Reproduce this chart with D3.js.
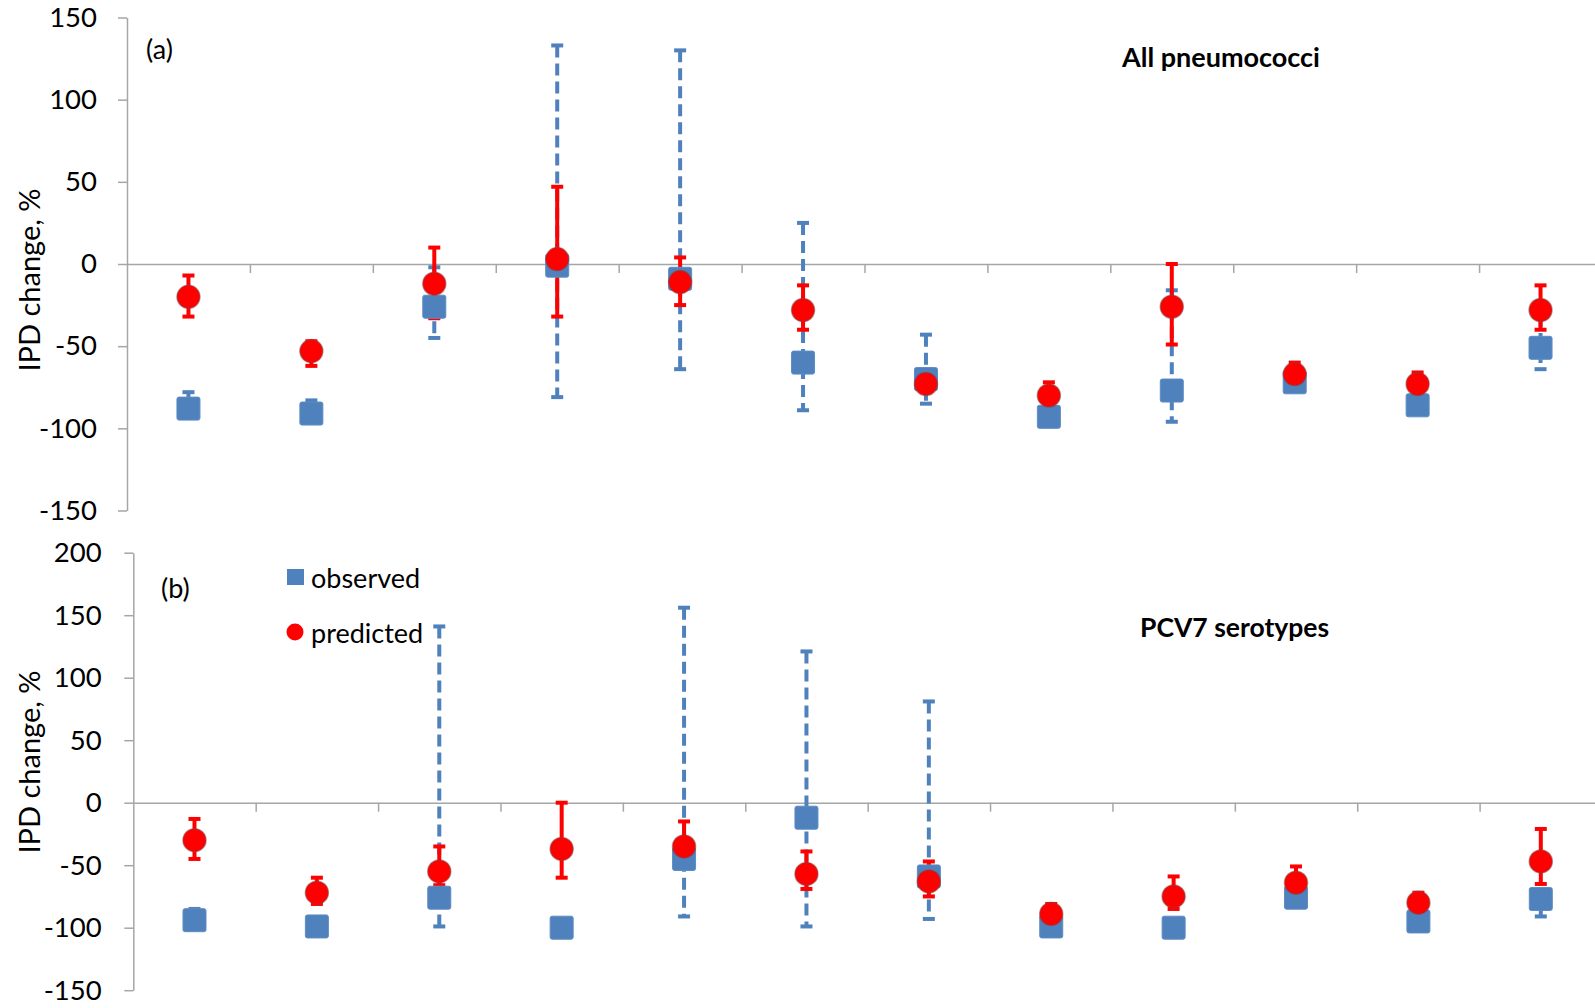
<!DOCTYPE html>
<html>
<head>
<meta charset="utf-8">
<script src="https://cdn.jsdelivr.net/npm/d3@7"></script>
<style>
  html, body { margin: 0; padding: 0; background: #fff; }
  svg { display: block; }
  text { font-family: Lato, "Open Sans", sans-serif; fill: #000; }
</style>
</head>
<body>
<svg id="chart" width="1595" height="1008"></svg>
<script>
// Twelve study sites (unlabelled on the x axis)
const sites = [1, 2, 3, 4, 5, 6, 7, 8, 9, 10, 11, 12];

// (a) All pneumococci — IPD change, %
const allObs      = [-88, -91, -26, -1, -9, -60, -70, -93, -77, -72, -86, -51];
const allObsLow   = [-93, -94, -45, -81, -64, -89, -85, -96, -96, -76, -90, -64];
const allObsHigh  = [-78, -83, -2, 133, 130, 25, -43, -88, -16, -66, -80, -31];
const allPred     = [-20, -53, -12, 3, -11, -28, -73, -80, -26, -67, -73, -28];
const allPredLow  = [-32, -62, -33, -32, -25, -40, -78, -84, -49, -71, -77, -40];
const allPredHigh = [-7, -47, 10, 47, 4, -13, -68, -72, 0, -60, -66, -13];

// (b) PCV7 serotypes — IPD change, %
const pcvObs      = [-94, -99, -76, -100, -45, -12, -59, -99, -100, -76, -95, -77];
const pcvObsLow   = [-97, -100, -99, -100, -91, -99, -93, -100, -100, -80, -98, -91];
const pcvObsHigh  = [-85, -98, 141, -100, 156, 121, 81, -97, -98, -72, -91, -70];
const pcvPred     = [-30, -72, -55, -37, -35, -57, -63, -89, -75, -64, -80, -47];
const pcvPredLow  = [-45, -81, -66, -60, -45, -69, -75, -95, -85, -70, -85, -65];
const pcvPredHigh = [-13, -60, -35, 0, -15, -39, -47, -81, -59, -51, -72, -21];

// Axis ticks
const ticksA = [-150, -100, -50, 0, 50, 100, 150];
const ticksB = [-150, -100, -50, 0, 50, 100, 150, 200];

const BLUE = "#4F81BD";
const RED = "#FF0000";
const AXIS = "#a6a6a6";

const svg = d3.select("#chart");
svg.append("rect").attr("width", 1595).attr("height", 1008).attr("fill", "#fff");

function panel(cfg) {
  const g = svg.append("g");
  const x = d3.scaleBand().domain(sites).range([cfg.left, cfg.right]).paddingInner(0).paddingOuter(0);
  const y = d3.scaleLinear().domain(cfg.domain).range([cfg.bottom, cfg.top]);
  const cx = d => x(d) + x.bandwidth() / 2;

  // y axis (plain hyphen for negatives)
  const ya = g.append("g")
    .attr("transform", `translate(${cfg.left},0)`)
    .call(d3.axisLeft(y).tickValues(cfg.ticks).tickSize(9).tickSizeOuter(0)
      .tickPadding(cfg.pad).tickFormat(d => String(d)));
  ya.select(".domain").attr("stroke", AXIS).attr("stroke-width", 1.5);
  ya.selectAll(".tick line").attr("stroke", AXIS).attr("stroke-width", 1.5);
  ya.selectAll(".tick text").attr("font-size", 27.5).attr("font-family", "Lato").attr("fill", "#000");

  // horizontal zero line with category separators
  const xl = d3.scaleLinear().domain([0, sites.length]).range([cfg.left, cfg.right]);
  const xa = g.append("g")
    .attr("transform", `translate(0,${y(0)})`)
    .call(d3.axisBottom(xl).tickValues(d3.range(1, sites.length)).tickSize(9).tickSizeOuter(0).tickFormat(""));
  xa.select(".domain").attr("stroke", AXIS).attr("stroke-width", 1.5);
  xa.selectAll(".tick line").attr("stroke", AXIS).attr("stroke-width", 1.5);

  // axis title
  g.append("text")
    .attr("transform", `translate(${cfg.titleX},${cfg.titleY}) rotate(-90)`)
    .attr("text-anchor", "middle")
    .attr("dominant-baseline", "central")
    .attr("font-size", 29)
    .text("IPD change, %");

  // panel letter and heading
  g.append("text").attr("x", cfg.letterX).attr("y", cfg.letterY)
    .attr("dominant-baseline", "central").attr("font-size", 27).text(cfg.letter);
  g.append("text").attr("x", cfg.headX).attr("y", cfg.headY)
    .attr("dominant-baseline", "central").attr("font-size", cfg.headSize)
    .attr("font-weight", "bold").text(cfg.heading);

  const obs = sites.map((s, i) => ({ s, v: cfg.obs[i], lo: cfg.obsLow[i], hi: cfg.obsHigh[i] }));
  const pred = sites.map((s, i) => ({ s, v: cfg.pred[i], lo: cfg.predLow[i], hi: cfg.predHigh[i] }));

  function errorBars(data, color, dashed) {
    const eg = g.append("g");
    eg.selectAll("line.stem").data(data).join("line")
      .attr("x1", d => cx(d.s)).attr("x2", d => cx(d.s))
      .attr("y1", d => y(d.hi)).attr("y2", d => y(d.lo))
      .attr("stroke", color).attr("stroke-width", 4)
      .attr("stroke-dasharray", dashed ? "12,6" : null);
    ["hi", "lo"].forEach(k => {
      eg.selectAll("line.cap" + k).data(data).join("line")
        .attr("x1", d => cx(d.s) - 6).attr("x2", d => cx(d.s) + 6)
        .attr("y1", d => y(d[k])).attr("y2", d => y(d[k]))
        .attr("stroke", color).attr("stroke-width", 4);
    });
  }
  errorBars(obs, BLUE, true);
  errorBars(pred, RED, false);

  g.append("g").selectAll("rect").data(obs).join("rect")
    .attr("x", d => cx(d.s) - 11.5).attr("y", d => y(d.v) - 11.5)
    .attr("width", 23).attr("height", 23).attr("rx", 2)
    .attr("fill", BLUE).attr("stroke", "#5d8cc4").attr("stroke-width", 1);

  g.append("g").selectAll("circle").data(pred).join("circle")
    .attr("cx", d => cx(d.s)).attr("cy", d => y(d.v)).attr("r", 11.5)
    .attr("fill", RED).attr("stroke", "rgba(140,60,60,0.55)").attr("stroke-width", 1.5);

  return g;
}

panel({
  left: 127, right: 1602, top: 17.5, bottom: 510.5, domain: [-150, 150], ticks: ticksA, pad: 21,
  titleX: 28, titleY: 280, letter: "(a)", letterX: 146, letterY: 48,
  heading: "All pneumococci", headX: 1122, headY: 56, headSize: 27,
  obs: allObs, obsLow: allObsLow, obsHigh: allObsHigh,
  pred: allPred, predLow: allPredLow, predHigh: allPredHigh
});

panel({
  left: 133.3, right: 1602, top: 552.7, bottom: 990.2, domain: [-150, 200], ticks: ticksB, pad: 22.6,
  titleX: 28, titleY: 762, letter: "(b)", letterX: 161, letterY: 587,
  heading: "PCV7 serotypes", headX: 1140, headY: 627, headSize: 26.5,
  obs: pcvObs, obsLow: pcvObsLow, obsHigh: pcvObsHigh,
  pred: pcvPred, predLow: pcvPredLow, predHigh: pcvPredHigh
});

// legend
const legend = svg.append("g");
legend.append("rect").attr("x", 287).attr("y", 569).attr("width", 17).attr("height", 16).attr("fill", BLUE);
legend.append("text").attr("x", 311).attr("y", 577).attr("dominant-baseline", "central")
  .attr("font-size", 27).text("observed");
legend.append("circle").attr("cx", 295).attr("cy", 632).attr("r", 8.5).attr("fill", RED);
legend.append("text").attr("x", 311).attr("y", 632).attr("dominant-baseline", "central")
  .attr("font-size", 27).text("predicted");
</script>
</body>
</html>
